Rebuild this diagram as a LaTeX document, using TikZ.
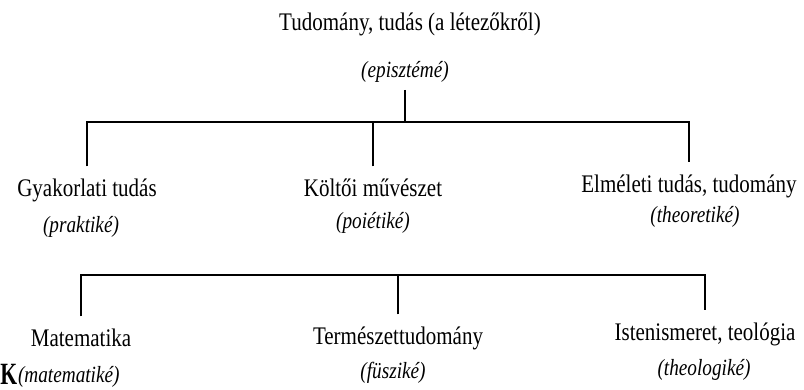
\documentclass[tikz,border=0pt]{standalone}
\usepackage{fontspec}
\setmainfont{Liberation Serif}[FakeStretch=0.83]
\newfontfamily\kfont{Liberation Serif}[FakeStretch=0.7]
\begin{document}
\begin{tikzpicture}[
    fo/.style={inner sep=0pt, anchor=base, outer ysep=0.3cm, font=\fontsize{18}{21}\selectfont},
    gk/.style={inner sep=0pt, anchor=base, outer ysep=0.2cm, font=\fontsize{16.5}{20}\selectfont\itshape},
    ag/.style={line width=0.8pt}]
    \useasboundingbox (0,0) rectangle (20.1,-9.725);

    % episteme
    \node (TUD) [fo] at (10.25,-0.75) {Tudomány, tudás (a létezőkről)};;
    \node (TUDg) [gk] at (10.125,-1.925) {(episztémé)};;

    % first level
    \node (GYA) [fo] at (2.175,-4.9) {Gyakorlati tudás};;
    \node (GYAg) [gk] at (2.025,-5.8) {(praktiké)};;
    \node (KOL) [fo] at (9.325,-4.9) {Költői művészet};;
    \node (KOLg) [gk] at (9.325,-5.72) {(poiétiké)};;
    \node (ELM) [fo] at (17.225,-4.8) {Elméleti tudás, tudomány};;
    \node (ELMg) [gk] at (17.375,-5.55) {(theoretiké)};;

    % second level
    \node (MAT) [fo] at (2.025,-8.65) {Matematika};;
    \node (MATg) [gk] at (1.72,-9.55) {(matematiké)};;
    \node (TER) [fo] at (9.95,-8.6) {Természettudomány};;
    \node (TERg) [gk] at (9.825,-9.45) {(füsziké)};;
    \node (IST) [fo] at (17.625,-8.5) {Istenismeret, teológia};;
    \node (ISTg) [gk] at (17.6,-9.38) {(theologiké)};;

    \node (K) [inner sep=0pt, anchor=base west, font=\kfont\fontsize{22}{24}\selectfont\bfseries] at (0,-9.6) {K};;

    % bars
    \coordinate (bar1) at (0,-3.05);
    \coordinate (bar2) at (0,-6.875);
    \draw[ag] (TUDg.south) -- (TUDg.south |- bar1);
    \draw[ag] (GYA.north) -- (GYA.north |- bar1) -- (ELM.north |- bar1) -- (ELM.north);
    \draw[ag] (KOL.north) -- (KOL.north |- bar1);
    \draw[ag] (MAT.north) -- (MAT.north |- bar2) -- (IST.north |- bar2) -- (IST.north);
    \draw[ag] (TER.north) -- (TER.north |- bar2);
\end{tikzpicture}
\end{document}
